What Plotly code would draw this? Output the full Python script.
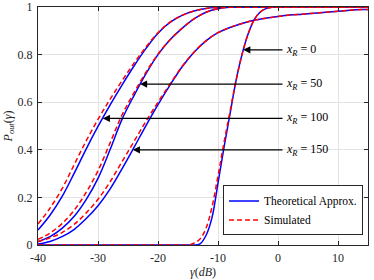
import plotly.graph_objects as go

# ---------------- data ----------------
gamma_grid = [-40, -38, -36, -34, -32, -30, -28, -26, -24, -22, -20, -18, -16, -14,
              -12, -10, -8, -6, -4, -2, 0, 2, 4, 6, 8, 10, 12, 14, 15]

# x_R = 100 (leftmost)
p100_theory = [0.063, 0.125, 0.203, 0.300, 0.402, 0.498, 0.588, 0.672, 0.752, 0.826, 0.890, 0.935, 0.965, 0.983,
               0.994, 0.998, 1.0, 1.0, 1.0, 1.0, 1.0, 1.0, 1.0, 1.0, 1.0, 1.0, 1.0, 1.0, 1.0]
p100_sim = [0.088, 0.155, 0.236, 0.336, 0.436, 0.528, 0.612, 0.690, 0.764, 0.832, 0.892, 0.936, 0.965, 0.983,
            0.994, 0.998, 1.0, 1.0, 1.0, 1.0, 1.0, 1.0, 1.0, 1.0, 1.0, 1.0, 1.0, 1.0, 1.0]

# x_R = 50 (middle)
p50_theory = [0.014, 0.035, 0.070, 0.120, 0.190, 0.280, 0.400, 0.528, 0.628, 0.720, 0.800, 0.862, 0.910, 0.950,
              0.978, 0.993, 0.999, 1.0, 1.0, 1.0, 1.0, 1.0, 1.0, 1.0, 1.0, 1.0, 1.0, 1.0, 1.0]
p50_sim = [0.024, 0.050, 0.090, 0.145, 0.220, 0.312, 0.428, 0.546, 0.640, 0.726, 0.802, 0.862, 0.910, 0.950,
           0.978, 0.993, 0.999, 1.0, 1.0, 1.0, 1.0, 1.0, 1.0, 1.0, 1.0, 1.0, 1.0, 1.0, 1.0]

# x_R = 150 (third)
p150_theory = [0.004, 0.015, 0.035, 0.065, 0.110, 0.165, 0.235, 0.320, 0.410, 0.502, 0.590, 0.672, 0.748, 0.810,
               0.858, 0.892, 0.914, 0.931, 0.944, 0.953, 0.960, 0.966, 0.970, 0.974, 0.978, 0.982, 0.986, 0.989, 0.990]
p150_sim = [0.015, 0.030, 0.052, 0.086, 0.134, 0.192, 0.265, 0.350, 0.435, 0.520, 0.600, 0.676, 0.750, 0.810,
            0.858, 0.892, 0.914, 0.931, 0.944, 0.953, 0.960, 0.966, 0.970, 0.974, 0.978, 0.982, 0.986, 0.989, 0.990]

# x_R = 0 (steep)
gamma_steep = [-40, -16, -15, -14, -13, -12, -11, -10, -9, -8, -7, -6, -5, -4, -3, -2, -1, 0, 15]
p0_theory = [0.0, 0.0, 0.0, 0.0, 0.005, 0.040, 0.115, 0.260, 0.410, 0.550, 0.690, 0.800, 0.885, 0.945,
             0.978, 0.993, 0.999, 1.0, 1.0]
p0_sim = [0.0, 0.0, 0.0, 0.008, 0.025, 0.070, 0.160, 0.290, 0.430, 0.560, 0.690, 0.800, 0.885, 0.945,
          0.978, 0.993, 0.999, 1.0, 1.0]

x_ticks = [-40, -30, -20, -10, 0, 10]
y_ticks = [0, 0.2, 0.4, 0.6, 0.8, 1]
y_tick_text = ["0", "0.2", "0.4", "0.6", "0.8", "1"]

label_values = ["0", "50", "100", "150"]
arrow_tips_x = [-5.8, -23.0, -29.2, -24.2]
arrow_tips_y = [0.82, 0.676, 0.532, 0.40]
label_x = 1.0

BLUE = "#0000FF"
RED = "#FF0000"
SERIF = "Liberation Serif, DejaVu Serif, serif"

fig = go.Figure()

theory = [(gamma_grid, p100_theory), (gamma_grid, p50_theory), (gamma_grid, p150_theory), (gamma_steep, p0_theory)]
sim = [(gamma_grid, p100_sim), (gamma_grid, p50_sim), (gamma_grid, p150_sim), (gamma_steep, p0_sim)]

for i, (gx, gy) in enumerate(theory):
    fig.add_trace(go.Scatter(x=gx, y=gy, mode="lines", name="Theoretical Approx.",
                             line=dict(color=BLUE, width=1.5, shape="spline", smoothing=1.0),
                             showlegend=(i == 0), legendgroup="t"))
for i, (gx, gy) in enumerate(sim):
    fig.add_trace(go.Scatter(x=gx, y=gy, mode="lines", name="Simulated",
                             line=dict(color=RED, width=1.5, dash="5px,3px", shape="spline", smoothing=1.0),
                             showlegend=(i == 0), legendgroup="s"))

annotations = []
for num, tx, ty in zip(label_values, arrow_tips_x, arrow_tips_y):
    annotations.append(dict(x=tx, y=ty, ax=label_x, ay=ty, xref="x", yref="y", axref="x", ayref="y",
                            text="", showarrow=True, arrowhead=2, arrowsize=1.1, arrowwidth=1.3,
                            arrowcolor="black"))
    annotations.append(dict(x=label_x, y=ty, xref="x", yref="y", xanchor="left", yanchor="middle",
                            text="<i>x</i><sub><i>R</i></sub> = " + num, showarrow=False,
                            font=dict(family=SERIF, size=12, color="black")))

axis_common = dict(showline=True, linecolor="#262626", linewidth=1, mirror="ticks",
                   ticks="inside", ticklen=4, tickcolor="#262626", tickwidth=1,
                   showgrid=True, gridcolor="#e3e3e3", gridwidth=1, zeroline=False,
                   automargin=False,
                   tickfont=dict(family=SERIF, size=12, color="#262626"))

fig.update_layout(
    width=374, height=280,
    margin=dict(l=38, r=6, t=7, b=35),
    paper_bgcolor="white", plot_bgcolor="white",
    xaxis=dict(range=[-40, 15], tickvals=x_ticks, ticktext=[str(v) for v in x_ticks],
               ticklabelstandoff=2,
               title=dict(text="<i>γ</i>(<i>dB</i>)", font=dict(family=SERIF, size=12, color="#262626"),
                          standoff=2),
               **axis_common),
    yaxis=dict(range=[0, 1], tickvals=y_ticks, ticktext=y_tick_text,
               ticklabelstandoff=2,
               title=dict(text="<i>P</i><sub><i>out</i></sub>(<i>γ</i>)",
                          font=dict(family=SERIF, size=12, color="#262626"), standoff=2),
               **axis_common),
    legend=dict(x=0.985, y=0.04, xanchor="right", yanchor="bottom",
                bgcolor="white", bordercolor="#262626", borderwidth=1,
                font=dict(family=SERIF, size=11.5, color="black"),
                tracegroupgap=0, itemwidth=30),
    annotations=annotations,
    showlegend=True,
    hovermode=False,
)

fig.write_html("out.html", config={"displayModeBar": False},
               post_script="document.body.style.margin='0px';")
